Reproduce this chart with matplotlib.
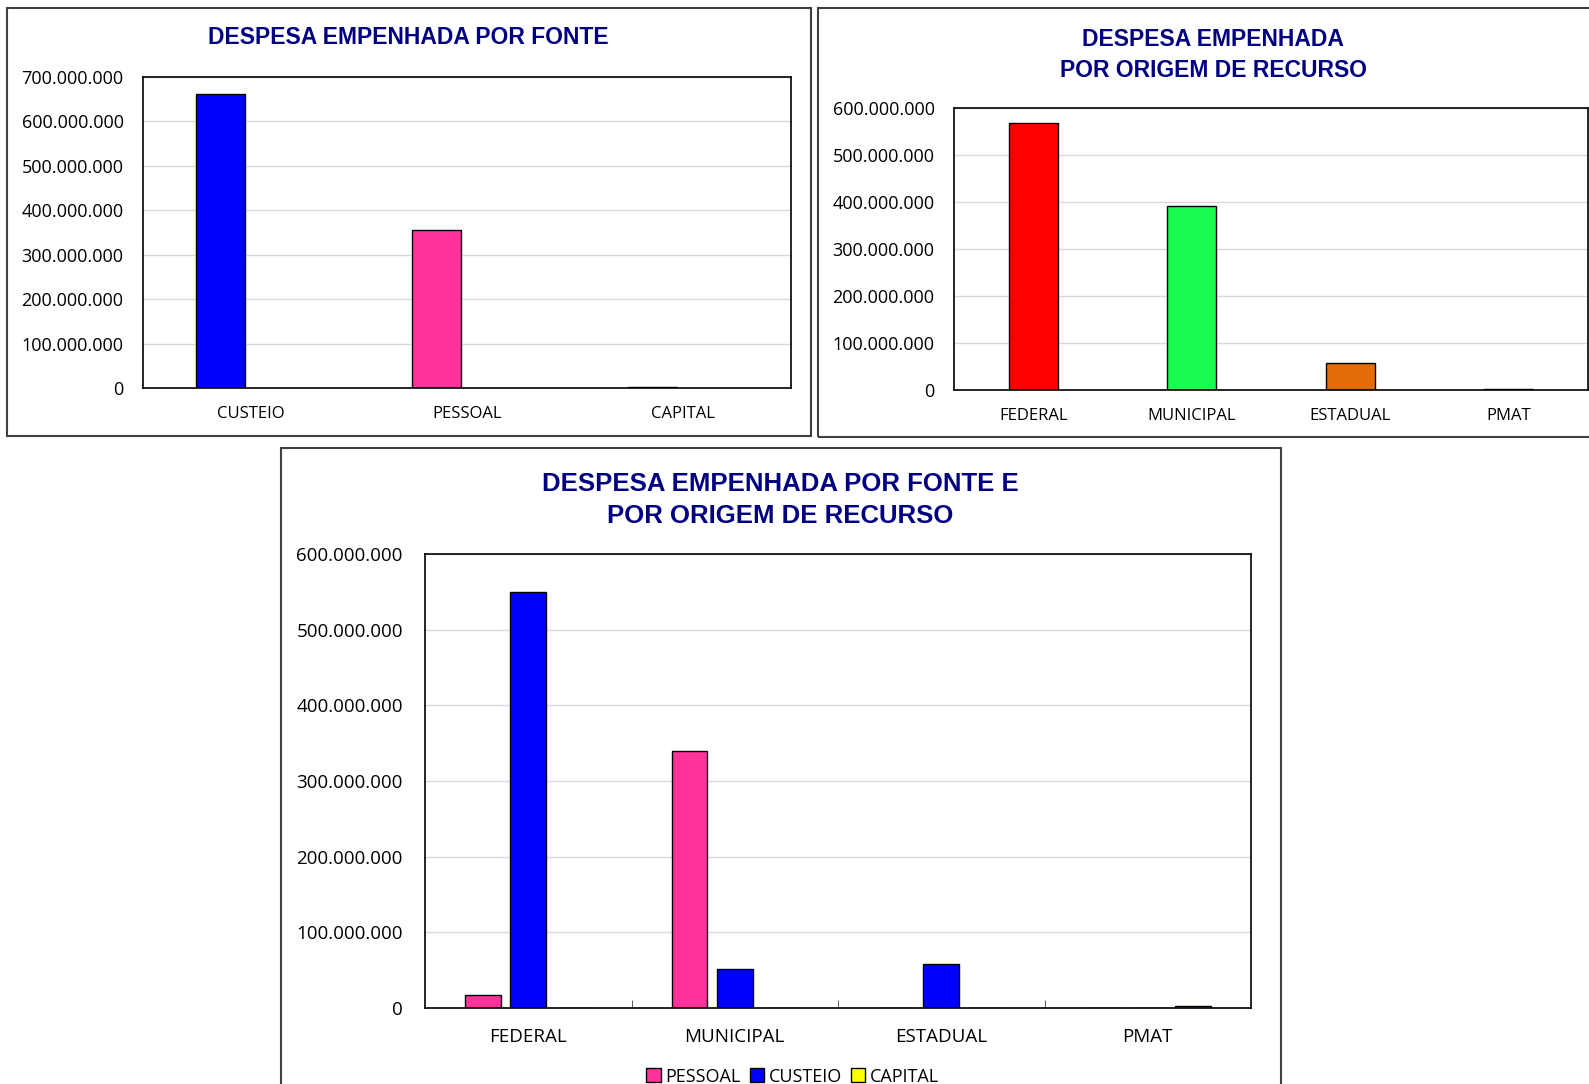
import numpy as np
import matplotlib
matplotlib.use("Agg")
import matplotlib.pyplot as plt
from matplotlib.ticker import FuncFormatter, MultipleLocator
from matplotlib.patches import Rectangle

# ---- data (in R$) ----
fonte_cats = ["CUSTEIO", "PESSOAL", "CAPITAL"]
fonte_vals = [661e6, 356e6, 3e6]
fonte_colors = ["#0000FF", "#FF3399", "#FFFF00"]

origem_cats = ["FEDERAL", "MUNICIPAL", "ESTADUAL", "PMAT"]
origem_vals = [568e6, 391e6, 58e6, 2e6]
origem_colors = ["#FF0000", "#19FB4F", "#E36C09", "#7F7F00"]

series_names = ["PESSOAL", "CUSTEIO", "CAPITAL"]
pessoal = [17.5e6, 339e6, 0.6e6, 0]
custeio = [550e6, 51e6, 57.5e6, 0]
capital = [0.6e6, 0.6e6, 0, 2e6]
series_colors = ["#FF3399", "#0000FF", "#FFFF00"]

W, H = 1589, 1084
title_font = ["Liberation Sans", "DejaVu Sans"]
label_font = ["Open Sans", "DejaVu Sans"]
navy = "#000080"

fig = plt.figure(figsize=(W / 100, H / 100), dpi=100)


def px_axes(l, t, r, b):
    return fig.add_axes([l / W, 1 - b / H, (r - l) / W, (b - t) / H])


def frame(l, t, r, b):
    fig.patches.append(Rectangle((l / W, 1 - b / H), (r - l) / W, (b - t) / H,
                                 transform=fig.transFigure, fill=False,
                                 edgecolor="#404040", lw=1.5))


def style(ax, n, step, top, ypad, xpad, fs, xfs):
    ax.set_xlim(-0.5, n - 0.5)
    ax.set_ylim(0, top)
    ax.yaxis.set_major_locator(MultipleLocator(step))
    ax.yaxis.set_major_formatter(FuncFormatter(lambda v, p: f"{int(round(v)):,}".replace(",", ".")))
    ax.grid(axis="y", color="#d9d9d9", lw=1)
    ax.set_axisbelow(True)
    for s in ax.spines.values():
        s.set_color("black")
        s.set_linewidth(1.2)
    ax.tick_params(axis="y", length=0, pad=ypad, labelsize=fs)
    ax.tick_params(axis="x", length=0, pad=xpad, labelsize=xfs)
    for lab in ax.get_xticklabels() + ax.get_yticklabels():
        lab.set_family(label_font)


# ---- chart 1: por fonte ----
frame(7, 8, 811, 436)
ax1 = px_axes(143, 77, 791, 388)
x1 = np.arange(len(fonte_cats))
ax1.bar(x1 - 0.14, fonte_vals, width=0.225, color=fonte_colors, edgecolor="black", lw=1)
ax1.set_xticks(x1)
ax1.set_xticklabels(fonte_cats)
style(ax1, len(fonte_cats), 100e6, 700e6, 14, 13, 13, 12)
fig.text(408 / W, 1 - 38 / H, "DESPESA EMPENHADA POR FONTE", ha="center", va="center",
         fontsize=16.5, fontweight="bold", color=navy, family=title_font)

# ---- chart 2: por origem ----
frame(818, 8, 1600, 437)
ax2 = px_axes(954, 108, 1588, 390)
x2 = np.arange(len(origem_cats))
ax2.bar(x2, origem_vals, width=0.31, color=origem_colors, edgecolor="black", lw=1)
ax2.set_xticks(x2)
ax2.set_xticklabels(origem_cats)
style(ax2, len(origem_cats), 100e6, 600e6, 14, 13, 13, 12)
fig.text(1213 / W, 1 - 55 / H, "DESPESA EMPENHADA\nPOR ORIGEM DE RECURSO", ha="center", va="center",
         fontsize=16.5, fontweight="bold", color=navy, family=title_font, linespacing=1.45)

# ---- chart 3: por fonte e origem ----
frame(281, 448, 1281, 1100)
ax3 = px_axes(425, 554, 1251, 1008)
x3 = np.arange(len(origem_cats))
bw = 0.172
offs = [-0.22, 0, 0.22]
for vals, name, col, o in zip([pessoal, custeio, capital], series_names, series_colors, offs):
    ax3.bar(x3 + o, vals, width=bw, color=col, edgecolor="black", lw=1, label=name)
ax3.set_xticks(x3)
ax3.set_xticklabels(origem_cats)
style(ax3, len(origem_cats), 100e6, 600e6, 16, 14.5, 13.5, 13.5)
ax3.set_xticks(np.arange(0.5, len(origem_cats) - 0.5, 1), minor=True)
ax3.tick_params(axis="x", which="minor", direction="in", length=6, color="#404040")
leg = ax3.legend(loc="center", bbox_to_anchor=(0.445, -0.151), ncol=3, frameon=False,
                 prop={"family": label_font, "size": 13}, handlelength=0.8, handleheight=0.8,
                 handletextpad=0.25, columnspacing=0.5, borderaxespad=0)
fig.text(780 / W, 1 - 500 / H, "DESPESA EMPENHADA POR FONTE E\nPOR ORIGEM DE RECURSO", ha="center",
         va="center", fontsize=18.5, fontweight="bold", color=navy, family=title_font, linespacing=1.45)

fig.savefig("out.png", dpi=100)
